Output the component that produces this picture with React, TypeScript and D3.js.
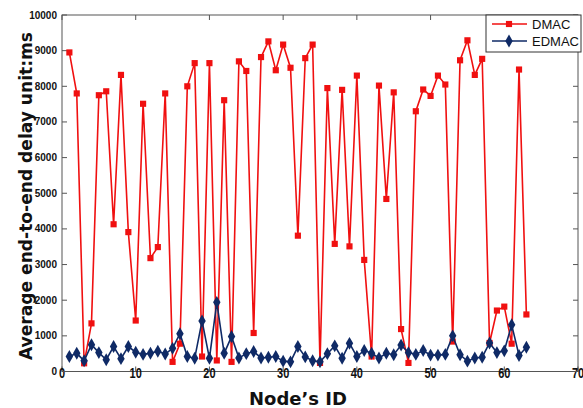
import * as d3 from 'd3';

// node ids 1..63
const nodeIds = d3.range(1, 64);

const dmac = [
  8950, 7800, 230, 1350, 7750, 7860, 4130, 8320, 3910, 1430,
  7510, 3180, 3490, 7800, 270, 780, 8000, 8650, 420, 8650,
  310, 7610, 270, 8700, 8430, 1080, 8820, 9260, 8450, 9170,
  8520, 3810, 8790, 9170, 240, 7950, 3580, 7900, 3510, 8300,
  3130, 420, 8020, 4840, 7830, 1190, 240, 7300, 7910, 7730,
  8300, 8050, 840, 8730, 9290, 8320, 8770, 800, 1710, 1820,
  780, 8470, 1600,
];

const edmac = [
  420, 510, 300, 750, 530, 330, 700, 360, 700, 540,
  480, 510, 570, 490, 650, 1060, 420, 370, 1420, 370,
  1940, 510, 980, 380, 500, 560, 380, 400, 420, 290,
  270, 700, 410, 300, 270, 500, 720, 370, 790, 420,
  590, 510, 380, 510, 470, 740, 530, 480, 590, 460,
  460, 480, 1000, 470, 290, 380, 400, 800, 530, 580,
  1310, 450, 680,
];

const xTicks = [0, 10, 20, 30, 40, 50, 60, 70];
const yTicks = [0, 1000, 2000, 3000, 4000, 5000, 6000, 7000, 8000, 9000, 10000];

const W = 583;
const H = 408;
const plot = { left: 62, right: 578, top: 15, bottom: 371.5 };

const RED = '#f01010';
const BLUE = '#0f2a66';

export default function App() {
  const x = d3.scaleLinear().domain([0, 70]).range([plot.left, plot.right]);
  const y = d3.scaleLinear().domain([0, 10000]).range([plot.bottom, plot.top]);

  const line = d3.line<number>()
    .x((_, i) => x(nodeIds[i]))
    .y((d) => y(d));

  const square = d3.symbol(d3.symbolSquare, 38)();
  const diamond = d3.symbol(d3.symbolDiamond, 48)();

  const tickFont = '"Liberation Sans Narrow", "Liberation Sans", Arial, sans-serif';

  return (
    <svg width={W} height={H} style={{ position: 'absolute', left: 0, top: 0, background: '#fff' }}>
      <rect x={0} y={0} width={W} height={H} fill="#fff" />

      {/* frame */}
      <rect
        x={plot.left}
        y={plot.top}
        width={plot.right - plot.left}
        height={plot.bottom - plot.top}
        fill="none"
        stroke="#555"
        strokeWidth={1}
      />

      {/* ticks, inward on all four sides */}
      {xTicks.map((t) => (
        <g key={'x' + t}>
          <line x1={x(t)} x2={x(t)} y1={plot.bottom} y2={plot.bottom - 5} stroke="#555" />
          <line x1={x(t)} x2={x(t)} y1={plot.top} y2={plot.top + 5} stroke="#555" />
          <text
            transform={`translate(${x(t)},${plot.bottom + 6.5}) scale(1,1.35)`}
            textAnchor="middle"
            fontSize={11}
            fontWeight={700}
            fontFamily={tickFont}
            fill="#111"
          >
            {t}
          </text>
        </g>
      ))}
      {yTicks.map((t) => (
        <g key={'y' + t}>
          <line x1={plot.left} x2={plot.left + 5} y1={y(t)} y2={y(t)} stroke="#555" />
          <line x1={plot.right} x2={plot.right - 5} y1={y(t)} y2={y(t)} stroke="#555" />
          <text
            x={plot.left - 5}
            y={y(t)}
            dy="0.35em"
            textAnchor="end"
            fontSize={10}
            fontWeight={700}
            fontFamily={tickFont}
            fill="#111"
          >
            {t}
          </text>
        </g>
      ))}

      {/* DMAC */}
      <path d={line(dmac) ?? ''} fill="none" stroke={RED} strokeWidth={1.6} />
      {dmac.map((v, i) => (
        <path key={'d' + i} d={square ?? ''} transform={`translate(${x(nodeIds[i])},${y(v)})`} fill={RED} />
      ))}

      {/* EDMAC */}
      <path d={line(edmac) ?? ''} fill="none" stroke={BLUE} strokeWidth={1.6} />
      {edmac.map((v, i) => (
        <path key={'e' + i} d={diamond ?? ''} transform={`translate(${x(nodeIds[i])},${y(v)})`} fill={BLUE} />
      ))}

      {/* axis titles */}
      <text
        x={298}
        y={405}
        textAnchor="middle"
        fontSize={18}
        fontWeight={700}
        fontFamily='"DejaVu Sans", sans-serif'
        fill="#111"
      >
        Node’s ID
      </text>
      <text
        transform="translate(32,196) rotate(-90)"
        textAnchor="middle"
        fontSize={18}
        fontWeight={700}
        fontFamily='"DejaVu Sans", sans-serif'
        fill="#111"
        textLength={328}
        lengthAdjust="spacingAndGlyphs"
      >
        Average end-to-end delay unit:ms
      </text>

      {/* legend */}
      <g>
        <rect x={486} y={15} width={95} height={37} fill="#fff" stroke="#333" strokeWidth={1} />
        <line x1={492} x2={527} y1={24} y2={24} stroke={RED} strokeWidth={1.6} />
        <path d={square ?? ''} transform="translate(509,24)" fill={RED} />
        <text x={532} y={24} dy="0.35em" fontSize={13} fontFamily='"Liberation Sans", Arial, sans-serif' fill="#111">
          DMAC
        </text>
        <line x1={492} x2={527} y1={41} y2={41} stroke={BLUE} strokeWidth={1.6} />
        <path d={diamond ?? ''} transform="translate(509,41)" fill={BLUE} />
        <text x={532} y={41} dy="0.35em" fontSize={13} fontFamily='"Liberation Sans", Arial, sans-serif' fill="#111">
          EDMAC
        </text>
      </g>
    </svg>
  );
}
